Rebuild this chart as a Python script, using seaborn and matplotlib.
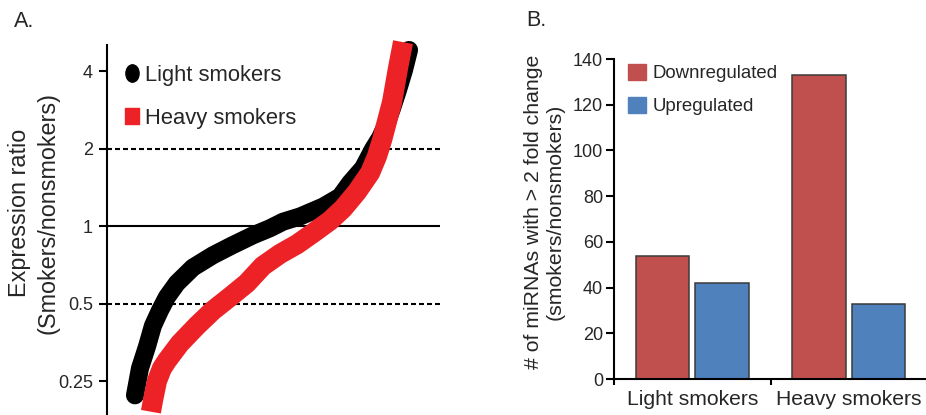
import numpy as np
import pandas as pd
import matplotlib
matplotlib.use("Agg")
import matplotlib.pyplot as plt
import matplotlib.patches as mpatches
from matplotlib.lines import Line2D
from matplotlib.path import Path
from matplotlib.transforms import Affine2D
import seaborn as sns

# ---- Panel A: sorted miRNA expression ratios (smokers / nonsmokers) ----
light_rank = [8.4, 9.9, 12.0, 13.8, 15.9, 18.0, 21.0, 25.8, 31.8, 37.5, 43.8, 48.9, 52.9,
              58.0, 64.9, 70.0, 73.0, 76.9, 79.9, 82.0, 83.8, 85.6, 87.4, 89.2, 90.7]
light_ratio = [0.22, 0.28, 0.34, 0.41, 0.47, 0.53, 0.60, 0.69, 0.77, 0.84, 0.92, 0.98, 1.04,
               1.09, 1.19, 1.30, 1.47, 1.68, 1.99, 2.20, 2.47, 2.87, 3.38, 4.04, 4.83]
heavy_rank = [13.2, 13.8, 15.0, 16.5, 18.0, 21.9, 27.0, 31.8, 36.9, 42.0, 46.8, 52.0,
              57.1, 61.9, 67.0, 70.9, 75.1, 79.0, 81.1, 82.6, 83.8, 85.6, 87.4, 88.9]
heavy_ratio = [0.19, 0.21, 0.25, 0.28, 0.30, 0.35, 0.41, 0.47, 0.53, 0.60, 0.70, 0.78,
               0.85, 0.94, 1.05, 1.17, 1.36, 1.61, 1.87, 2.16, 2.47, 3.03, 4.11, 5.18]
ratio_ticks = [0.25, 0.5, 1, 2, 4]
ratio_tick_labels = ["0.25", "0.5", "1", "2", "4"]

# ---- Panel B: number of miRNAs with > 2 fold change ----
groups = ["Light smokers", "Heavy smokers"]
downregulated = [54, 133]
upregulated = [42, 33]
count_ticks = [0, 20, 40, 60, 80, 100, 120, 140]

RED_LINE = "#ec2227"
BAR_RED = "#c0504d"
BAR_BLUE = "#4f81bd"

sns.set_style("ticks")
plt.rcParams["font.family"] = ["Liberation Sans", "DejaVu Sans"]

W, H = 926, 415
fig = plt.figure(figsize=(W / 100, H / 100), dpi=100)

# ================= Panel A =================
axA = fig.add_axes([107 / W, 0, 333 / W, 370 / H])
axA.set_yscale("log", base=2)
axA.set_xlim(0, 100)
axA.set_ylim(0.1845, 5.05)

dash = (0, (2.4, 1.44))
for level, ls in [(2, dash), (1, "-"), (0.5, dash)]:
    axA.axhline(level, color="black", lw=1.5, ls=ls, zorder=1)

sns.lineplot(x=light_rank, y=light_ratio, color="black", linewidth=13, estimator=None,
             solid_capstyle="round", solid_joinstyle="round", clip_on=False, zorder=3, ax=axA)
sns.lineplot(x=heavy_rank, y=heavy_ratio, color=RED_LINE, linewidth=14.5, estimator=None,
             solid_capstyle="butt", solid_joinstyle="round", clip_on=False, zorder=4, ax=axA)

axA.set_yticks(ratio_ticks)
axA.set_yticklabels(ratio_tick_labels)
axA.yaxis.set_minor_locator(matplotlib.ticker.NullLocator())
axA.tick_params(axis="y", length=6, width=1.5, pad=4, labelsize=13, color="black")
axA.set_xticks([])
for side in ["top", "right", "bottom"]:
    axA.spines[side].set_visible(False)
axA.spines["left"].set_linewidth(1.5)
axA.spines["left"].set_color("black")

axA.set_ylabel("Expression ratio\n(Smokers/nonsmokers)", fontsize=16.8, linespacing=1.3,
               ha="center", va="center", multialignment="center")
axA.yaxis.set_label_coords((34 - 107) / 333, (415 - 213) / 370)

ellipse = Path.unit_circle().transformed(Affine2D().scale(0.76, 1.0))
tall_square = Path([(-0.41, -0.5), (0.41, -0.5), (0.41, 0.5), (-0.41, 0.5), (-0.41, -0.5)],
                   [Path.MOVETO, Path.LINETO, Path.LINETO, Path.LINETO, Path.CLOSEPOLY])
handlesA = [
    Line2D([], [], ls="none", marker=ellipse, markersize=12.5, color="black"),
    Line2D([], [], ls="none", marker=tall_square, markersize=11.8, color=RED_LINE),
]
axA.legend(handlesA, ["Light smokers", "Heavy smokers"], loc="upper left",
           bbox_to_anchor=((121 - 107) / 333, (415 - 65) / 370), frameon=False,
           fontsize=15.8, handlelength=1.0, handletextpad=0.1, labelspacing=1.0,
           borderpad=0, borderaxespad=0)

# ================= Panel B =================
axB = fig.add_axes([614 / W, (H - 379) / H, 313 / W, 320 / H])
bars = pd.DataFrame({
    "group": groups * 2,
    "count": downregulated + upregulated,
    "direction": ["Downregulated"] * len(groups) + ["Upregulated"] * len(groups),
})
sns.barplot(data=bars, x="group", y="count", hue="direction",
            palette={"Downregulated": BAR_RED, "Upregulated": BAR_BLUE},
            width=0.76, gap=0.1, saturation=1, edgecolor="#3a3a3a", linewidth=1.1,
            legend=False, ax=axB)
axB.set_xlim(-0.5, 1.5)
axB.set_ylim(0, 140)
axB.set_yticks(count_ticks)
axB.set_xlabel("")
axB.set_xticks([-0.5, 0.5, 1.5], minor=True)
axB.tick_params(axis="x", which="major", length=0, pad=8, labelsize=15.2)
axB.tick_params(axis="x", which="minor", length=4.5, width=1.5, color="black")
axB.tick_params(axis="y", length=6, width=1.5, pad=2, labelsize=13, color="black")
for side in ["top", "right"]:
    axB.spines[side].set_visible(False)
for side in ["left", "bottom"]:
    axB.spines[side].set_linewidth(1.5)
    axB.spines[side].set_color("black")

axB.set_ylabel("# of miRNAs with > 2 fold change\n(smokers/nonsmokers)", fontsize=15.3,
               linespacing=1.15, ha="center", va="center", multialignment="center")
axB.yaxis.set_label_coords((544.5 - 614) / 313, (379 - 212) / 320)

handlesB = [mpatches.Patch(color=BAR_RED), mpatches.Patch(color=BAR_BLUE)]
axB.legend(handlesB, ["Downregulated", "Upregulated"], loc="upper left",
           bbox_to_anchor=((628 - 614) / 313, (379 - 64) / 320), frameon=False,
           fontsize=13.4, handlelength=0.97, handleheight=0.95, handletextpad=0.37,
           labelspacing=0.78, borderpad=0, borderaxespad=0)

fig.text(14 / W, (H - 27) / H, "A.", fontsize=15.5, va="baseline", ha="left")
fig.text(526 / W, (H - 26) / H, "B.", fontsize=15.5, va="baseline", ha="left")

fig.savefig("out.png", dpi=100)
